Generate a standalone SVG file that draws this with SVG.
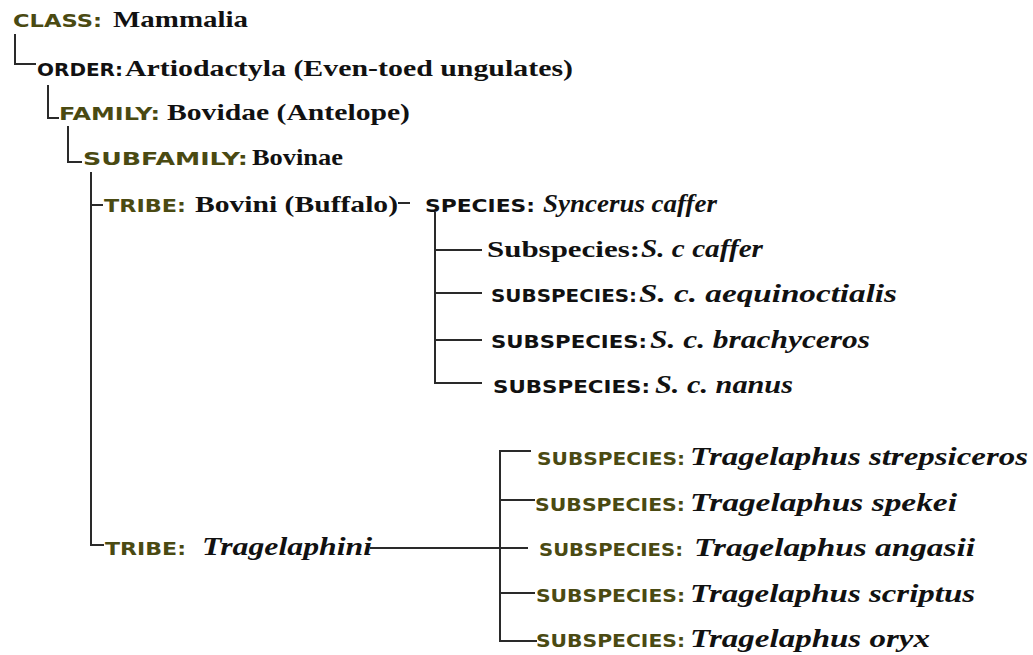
<svg xmlns="http://www.w3.org/2000/svg" width="1033" height="655" viewBox="0 0 1033 655">
<style>
.lab{font-family:"DejaVu Sans","Verdana",sans-serif;font-weight:bold;font-size:17px}
.ol{fill:#4a4a12}
.bk{fill:#111}
.rom{font-family:"Liberation Serif","Times New Roman",serif;font-weight:bold;font-size:24px;fill:#111}
.it{font-family:"Liberation Serif","Times New Roman",serif;font-weight:bold;font-style:italic;font-size:25px;fill:#111}
.con{fill:none;stroke:#2a2a2a;stroke-width:2}
</style>
<rect width="1033" height="655" fill="#ffffff"/>
<g id="connectors" class="con">
<path d="M15 34 V64 H36"/>
<path d="M48 85 V118 H59"/>
<path d="M68 126 V162 H82"/>
<path d="M91 172 V545 H104"/>
<path d="M91 205 H103"/>
<path d="M398 203 H410"/>
<path d="M435 212 V383 H482"/>
<path d="M435 250 H482"/>
<path d="M435 293 H482"/>
<path d="M435 340 H482"/>
<path d="M370 548 H528"/>
<path d="M531 451 H500 V641 H537"/>
<path d="M500 500 H535"/>
<path d="M500 593 H535"/>
</g>
<g id="class">
<text class="lab ol" x="13" y="27" font-size="19" textLength="89" lengthAdjust="spacingAndGlyphs">CLASS:</text>
<text class="rom" x="113" y="27" textLength="135" lengthAdjust="spacingAndGlyphs">Mammalia</text>
</g>
<g id="order">
<text class="lab bk" x="37" y="76" textLength="86" lengthAdjust="spacingAndGlyphs">ORDER:</text>
<text class="rom" x="125" y="76" textLength="448" lengthAdjust="spacingAndGlyphs">Artiodactyla (Even-toed ungulates)</text>
</g>
<g id="family">
<text class="lab ol" x="59" y="120" font-size="18" textLength="101" lengthAdjust="spacingAndGlyphs">FAMILY:</text>
<text class="rom" x="167" y="120" textLength="243" lengthAdjust="spacingAndGlyphs">Bovidae (Antelope)</text>
</g>
<g id="subfamily">
<text class="lab ol" x="83" y="165" textLength="165" lengthAdjust="spacingAndGlyphs">SUBFAMILY:</text>
<text class="rom" x="252" y="165" textLength="91" lengthAdjust="spacingAndGlyphs">Bovinae</text>
</g>
<g id="tribe-bovini">
<text class="lab ol" x="104" y="212" textLength="82" lengthAdjust="spacingAndGlyphs">TRIBE:</text>
<text class="rom" x="195" y="212" textLength="203" lengthAdjust="spacingAndGlyphs">Bovini (Buffalo)</text>
</g>
<g id="species">
<text class="lab bk" x="425" y="212" textLength="110" lengthAdjust="spacingAndGlyphs">SPECIES:</text>
<text class="it" x="543" y="212" font-size="26" textLength="174" lengthAdjust="spacingAndGlyphs">Syncerus caffer</text>
</g>
<g id="ssp-caffer">
<text class="rom" x="487" y="257" textLength="153" lengthAdjust="spacingAndGlyphs">Subspecies:</text>
<text class="it" x="641" y="257" font-size="26" textLength="122" lengthAdjust="spacingAndGlyphs">S.  c caffer</text>
</g>
<g id="ssp-aequinoctialis">
<text class="lab bk" x="491" y="302" textLength="146" lengthAdjust="spacingAndGlyphs">SUBSPECIES:</text>
<text class="it" x="639" y="302" textLength="258" lengthAdjust="spacingAndGlyphs">S. c. aequinoctialis</text>
</g>
<g id="ssp-brachyceros">
<text class="lab bk" x="491" y="348" textLength="156" lengthAdjust="spacingAndGlyphs">SUBSPECIES:</text>
<text class="it" x="650" y="348" textLength="220" lengthAdjust="spacingAndGlyphs">S. c. brachyceros</text>
</g>
<g id="ssp-nanus">
<text class="lab bk" x="493" y="393" textLength="157" lengthAdjust="spacingAndGlyphs">SUBSPECIES:</text>
<text class="it" x="655" y="393" textLength="138" lengthAdjust="spacingAndGlyphs">S. c. nanus</text>
</g>
<g id="tribe-tragelaphini">
<text class="lab ol" x="105" y="555" textLength="81" lengthAdjust="spacingAndGlyphs">TRIBE:</text>
<text class="it" x="202" y="555" textLength="170" lengthAdjust="spacingAndGlyphs">Tragelaphini</text>
</g>
<g id="ssp-strepsiceros">
<text class="lab ol" x="537" y="465" textLength="148" lengthAdjust="spacingAndGlyphs">SUBSPECIES:</text>
<text class="it" x="690" y="465" textLength="338" lengthAdjust="spacingAndGlyphs">Tragelaphus strepsiceros</text>
</g>
<g id="ssp-spekei">
<text class="lab ol" x="535" y="511" textLength="150" lengthAdjust="spacingAndGlyphs">SUBSPECIES:</text>
<text class="it" x="690" y="511" textLength="267" lengthAdjust="spacingAndGlyphs">Tragelaphus spekei</text>
</g>
<g id="ssp-angasii">
<text class="lab ol" x="539" y="556" textLength="144" lengthAdjust="spacingAndGlyphs">SUBSPECIES:</text>
<text class="it" x="694" y="556" textLength="281" lengthAdjust="spacingAndGlyphs">Tragelaphus angasii</text>
</g>
<g id="ssp-scriptus">
<text class="lab ol" x="536" y="602" textLength="149" lengthAdjust="spacingAndGlyphs">SUBSPECIES:</text>
<text class="it" x="690" y="602" textLength="285" lengthAdjust="spacingAndGlyphs">Tragelaphus scriptus</text>
</g>
<g id="ssp-oryx">
<text class="lab ol" x="536" y="647" textLength="149" lengthAdjust="spacingAndGlyphs">SUBSPECIES:</text>
<text class="it" x="690" y="647" textLength="240" lengthAdjust="spacingAndGlyphs">Tragelaphus oryx</text>
</g>
</svg>
